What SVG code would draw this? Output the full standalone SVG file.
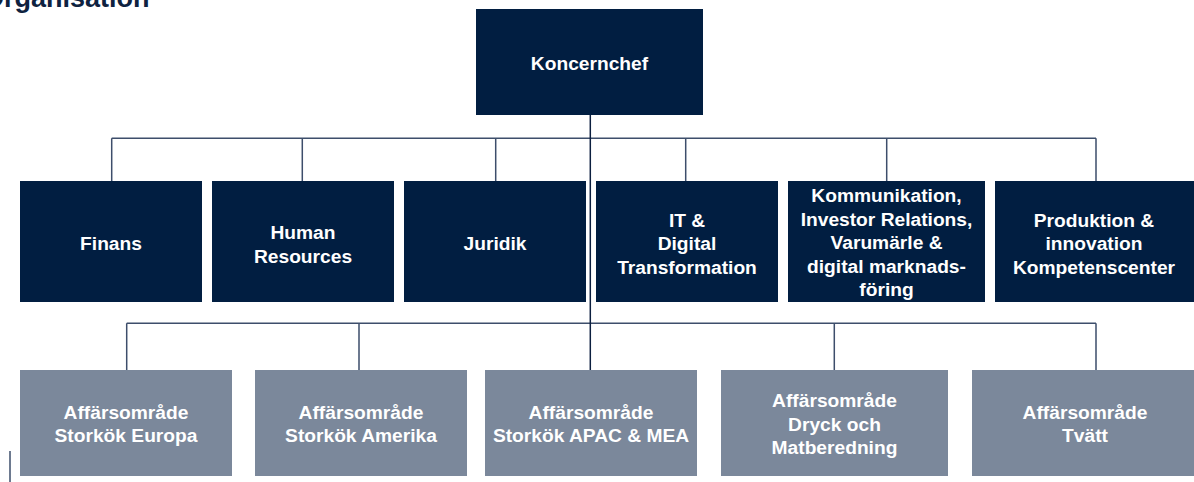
<svg xmlns="http://www.w3.org/2000/svg" width="1194" height="482" viewBox="0 0 1194 482">
<style>
.dark{fill:#011e41}
.light{fill:#7b889b}
.t{font-family:"Liberation Sans",Arial,sans-serif;font-weight:bold;font-size:19.2px;fill:#ffffff;text-anchor:middle}
.ln{stroke:#3d4e6b;stroke-width:1.5;fill:none}
.main{stroke:#0c1f3f;stroke-width:1.5;fill:none}
.title{font-family:"Liberation Sans",Arial,sans-serif;font-weight:bold;font-size:27px;fill:#0e2240}
</style>
<rect width="1194" height="482" fill="#ffffff"/>
<text class="title" x="-17" y="7">Organisation</text>
<g id="connectors">
<path class="ln" d="M111.7,138.3 H1096 M111.7,138.3 V181 M302.3,138.3 V181 M495.7,138.3 V181 M685.7,138.3 V181 M886.7,138.3 V181 M1096,138.3 V181"/>
<path class="ln" d="M126.7,323.3 H1096 M126.7,323.3 V370 M359,323.3 V370 M834.3,323.3 V370 M1096,323.3 V370"/>
<path class="main" d="M590.3,115 V370"/>
<path class="ln" d="M10,451 V482"/>
</g>
<g id="koncernchef"><rect class="dark" x="476" y="9" width="227" height="106"/><text class="t" x="589.5" y="69.5">Koncernchef</text></g>
<g id="finans"><rect class="dark" x="20" y="181" width="182" height="121"/><text class="t" x="111" y="250">Finans</text></g>
<g id="hr"><rect class="dark" x="212" y="181" width="182" height="121"/><text class="t" x="303" y="239">Human</text><text class="t" x="303" y="262.5">Resources</text></g>
<g id="juridik"><rect class="dark" x="404" y="181" width="182" height="121"/><text class="t" x="495" y="250">Juridik</text></g>
<g id="it"><rect class="dark" x="596" y="181" width="182" height="121"/><text class="t" x="687" y="226.5">IT &amp;</text><text class="t" x="687" y="250">Digital</text><text class="t" x="687" y="273.5">Transformation</text></g>
<g id="kommunikation"><rect class="dark" x="788" y="181" width="197" height="121"/>
<text class="t" x="886.5" y="202">Kommunikation,</text><text class="t" x="886.5" y="225.5">Investor Relations,</text><text class="t" x="886.5" y="249">Varumärle &amp;</text><text class="t" x="886.5" y="272.5">digital marknads-</text><text class="t" x="886.5" y="296">föring</text></g>
<g id="produktion"><rect class="dark" x="995" y="181" width="199" height="121"/><text class="t" x="1094" y="226.5">Produktion &amp;</text><text class="t" x="1094" y="250">innovation</text><text class="t" x="1094" y="273.5">Kompetenscenter</text></g>
<g id="europa"><rect class="light" x="20" y="370" width="212" height="106"/><text class="t" x="126" y="418.5">Affärsområde</text><text class="t" x="126" y="442">Storkök Europa</text></g>
<g id="amerika"><rect class="light" x="255" y="370" width="212" height="106"/><text class="t" x="361" y="418.5">Affärsområde</text><text class="t" x="361" y="442">Storkök Amerika</text></g>
<g id="apac"><rect class="light" x="485" y="370" width="212" height="106"/><text class="t" x="591" y="418.5">Affärsområde</text><text class="t" x="591" y="442">Storkök APAC &amp; MEA</text></g>
<g id="dryck"><rect class="light" x="721" y="370" width="227" height="106"/><text class="t" x="834.5" y="407">Affärsområde</text><text class="t" x="834.5" y="430.5">Dryck och</text><text class="t" x="834.5" y="454">Matberedning</text></g>
<g id="tvatt"><rect class="light" x="972" y="370" width="222" height="106"/><text class="t" x="1085" y="418.5">Affärsområde</text><text class="t" x="1085" y="442">Tvätt</text></g>
</svg>
